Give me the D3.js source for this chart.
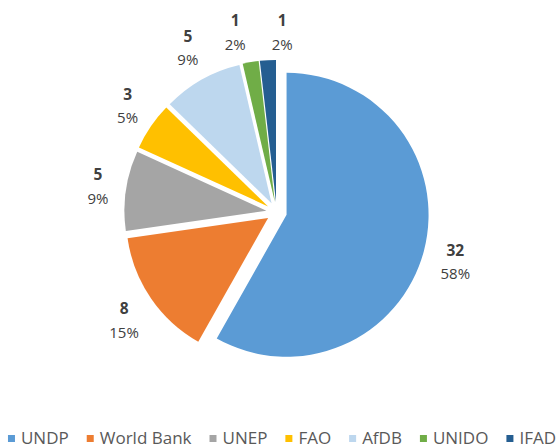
<!DOCTYPE html>
<html>
<head>
<meta charset="utf-8">
<script src="https://cdn.jsdelivr.net/npm/d3@7"></script>
<style>
  body { margin: 0; background: #fff; }
  svg { display: block; font-family: "Open Sans", sans-serif; }
</style>
</head>
<body>
<div id="chart"></div>
<script>
  let categories = ['UNDP', 'World Bank', 'UNEP', 'FAO', 'AfDB', 'UNIDO', 'IFAD'];
  let values = [32, 8, 5, 3, 5, 1, 1];
  let colors = ['#5b9bd5', '#ed7d31', '#a5a5a5', '#ffc000', '#bdd7ee', '#70ad47', '#255e91'];

  let width = 559;
  let height = 445;
  let cx = 276.6;
  let cy = 212.2;
  let radius = 142;
  let explode = 10.3;
  let labelRadius = 170;

  let data = categories.map((c, i) => ({ label: c, value: values[i], color: colors[i] }));
  let total = d3.sum(values);

  let svg = d3
    .select('#chart')
    .append('svg')
    .attr('width', width)
    .attr('height', height);

  let pie = d3.pie().sort(null).value((d) => d.value);
  let arc = d3.arc().innerRadius(0).outerRadius(radius);
  let arcs = pie(data);

  // unit vector along the middle of each slice (screen coords, y down)
  function dir(a) {
    let m = (a.startAngle + a.endAngle) / 2;
    return [Math.sin(m), -Math.cos(m)];
  }

  let g = svg.append('g').attr('transform', `translate(${cx}, ${cy})`);

  g.selectAll('path')
    .data(arcs)
    .enter()
    .append('path')
    .attr('d', arc)
    .attr('fill', (d) => d.data.color)
    .attr('transform', (d) => {
      let u = dir(d);
      return `translate(${u[0] * explode}, ${u[1] * explode})`;
    });

  // data labels: value (bold) and percentage
  let labels = g
    .selectAll('g.label')
    .data(arcs)
    .enter()
    .append('g')
    .attr('class', 'label');

  labels
    .append('text')
    .attr('text-anchor', 'middle')
    .attr('y', -5)
    .attr('font-size', 15.5)
    .attr('font-weight', 'bold')
    .attr('fill', '#404040')
    .text((d) => d.data.value);

  labels
    .append('text')
    .attr('text-anchor', 'middle')
    .attr('y', 18.5)
    .attr('font-size', 15)
    .attr('fill', '#404040')
    .text((d) => Math.round((d.data.value / total) * 100) + '%');

  let pos = arcs.map((d, i) => {
    let u = dir(d);
    let node = labels.nodes()[i];
    let w = d3.max(d3.select(node).selectAll('text').nodes(), (t) => t.getComputedTextLength());
    let h = 40;
    let x = u[0] * labelRadius + (u[0] * w) / 2;
    let y = u[1] * labelRadius + (u[1] * h) / 2;
    // keep labels inside the chart area
    y = Math.max(y, 31 - cy);
    return [x, y];
  });

  // spread apart labels that collide at the top
  for (let i = 1; i < pos.length; i++) {
    let a = pos[i - 1];
    let b = pos[i];
    if (Math.abs(a[1] - b[1]) < 30 && b[0] - a[0] < 47 && b[0] >= a[0] - 47) {
      let shift = (47 - (b[0] - a[0])) / 2;
      a[0] -= shift * 0.8;
      b[0] += shift * 1.2;
    }
  }

  labels.attr('transform', (d, i) => `translate(${pos[i][0]}, ${pos[i][1]})`);

  // legend along the bottom
  let legend = svg.append('g');
  let items = legend
    .selectAll('g')
    .data(data)
    .enter()
    .append('g');

  items
    .append('rect')
    .attr('x', 0)
    .attr('y', -3.5)
    .attr('width', 7)
    .attr('height', 7)
    .attr('fill', (d) => d.color);

  items
    .append('text')
    .attr('x', 13)
    .attr('y', 5.5)
    .attr('font-size', 17)
    .attr('fill', '#595959')
    .text((d) => d.label);

  let gap = 18;
  let offsets = [];
  let xpos = 0;
  items.each(function () {
    offsets.push(xpos);
    let tw = d3.select(this).select('text').node().getComputedTextLength();
    xpos += 13 + tw + gap;
  });
  let legendWidth = xpos - gap;
  let legendX = 282 - legendWidth / 2;

  items.attr('transform', (d, i) => `translate(${legendX + offsets[i]}, 438.5)`);
</script>
</body>
</html>
